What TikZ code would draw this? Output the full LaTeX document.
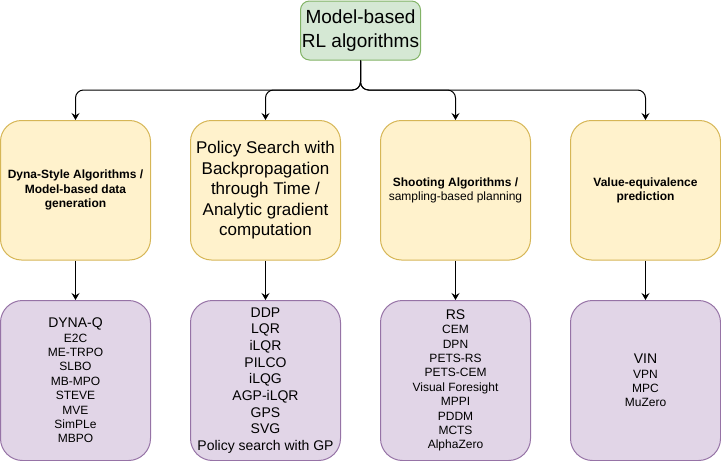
\documentclass[tikz,border=0pt]{standalone}
\usepackage{fontspec}
\setmainfont{Liberation Sans}
\usetikzlibrary{arrows.meta}
\definecolor{gfill}{HTML}{D5E8D4}
\definecolor{gline}{HTML}{82B366}
\definecolor{yfill}{HTML}{FFF2CC}
\definecolor{yline}{HTML}{D6B656}
\definecolor{pfill}{HTML}{E1D5E7}
\definecolor{pline}{HTML}{9673A6}
\tikzset{
  topbox/.style={draw=gline, fill=gfill, line width=1pt, rounded corners=9pt,
    minimum width=120pt, minimum height=59pt, align=center, inner sep=0pt,
    font=\fontsize{19}{23.75}\selectfont},
  catbox/.style={draw=yline, fill=yfill, line width=1pt, rounded corners=21pt,
    minimum width=150pt, minimum height=139.5pt, align=center, inner sep=0pt,
    font=\fontsize{12}{14.4}\selectfont},
  algbox/.style={draw=pline, fill=pfill, line width=1pt, rounded corners=22pt,
    minimum width=150pt, minimum height=160pt, align=center, inner sep=0pt,
    font=\fontsize{12}{14.4}\selectfont},
  conn/.style={draw=black, line width=1pt, -{Stealth[length=7pt,width=8pt,inset=2.5pt]}},
}
\newcommand{\bigitem}[1]{{\fontsize{14}{14}\selectfont #1}}
\begin{document}
\begin{tikzpicture}[x=1pt,y=-1pt]
\useasboundingbox (0,0) rectangle (721,461);
\node[topbox] (top) at (360.5,30.5) {Model-based\\RL algorithms};

\node[catbox] (c1) at (75.5,190.25) {\textbf{Dyna-Style Algorithms /}\\\textbf{Model-based data}\\\textbf{generation}};
\node[catbox, font=\fontsize{17}{20.4}\selectfont] (c2) at (265.5,190.25) {Policy Search with\\Backpropagation\\through Time /\\Analytic gradient\\computation};
\node[catbox] (c3) at (455.5,190.25) {\textbf{Shooting Algorithms /}\\sampling-based planning};
\node[catbox] (c4) at (645.5,190.25) {\textbf{Value-equivalence}\\\textbf{prediction}};

\node[algbox] (a1) at (75.5,380.5) {\bigitem{DYNA-Q}\\E2C\\ME-TRPO\\SLBO\\MB-MPO\\STEVE\\MVE\\SimPLe\\MBPO};
\node[algbox, font=\fontsize{14}{16.7}\selectfont] (a2) at (265.5,380.5) {DDP\\LQR\\iLQR\\PILCO\\iLQG\\AGP-iLQR\\GPS\\SVG\\Policy search with GP};
\node[algbox] (a3) at (455.5,380.5) {\bigitem{RS}\\CEM\\DPN\\PETS-RS\\PETS-CEM\\Visual Foresight\\MPPI\\PDDM\\MCTS\\AlphaZero};
\node[algbox] (a4) at (645.5,380.5) {\bigitem{VIN}\\VPN\\MPC\\MuZero};

\coordinate (mid) at (360.5,90);
\foreach \c in {c1,c2,c3,c4}{
  \draw[conn, rounded corners=8pt] (top.south) -- (mid) -| (\c.north);
}
\draw[conn] (c1.south) -- (a1.north);
\draw[conn] (c2.south) -- (a2.north);
\draw[conn] (c3.south) -- (a3.north);
\draw[conn] (c4.south) -- (a4.north);
\end{tikzpicture}
\end{document}
